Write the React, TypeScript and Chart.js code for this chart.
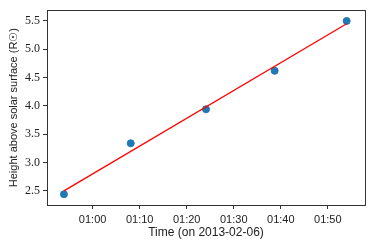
import React, { useEffect, useRef } from "react";
import { Chart, registerables } from "chart.js";

Chart.register(...registerables);

const pointTimes = ["00:53:54", "01:08:06", "01:24:06", "01:38:42", "01:54:00"];
const heights = [2.44, 3.34, 3.94, 4.62, 5.5];
const fitTimes = ["00:53:54", "01:54:00"];
const fitHeights = [2.5, 5.45];
const xTickTimes = ["01:00", "01:10", "01:20", "01:30", "01:40", "01:50"];
const yTicks = [2.5, 3.0, 3.5, 4.0, 4.5, 5.0, 5.5];

const toMin = (s: string) => {
  const p = s.split(":").map(Number);
  return p[0] * 60 + p[1] + (p[2] || 0) / 60;
};
const fmt = (m: number) => {
  const h = Math.floor(m / 60);
  const mm = Math.round(m - h * 60);
  return String(h).padStart(2, "0") + ":" + String(mm).padStart(2, "0");
};

const frame = {
  id: "frame",
  afterDraw(chart: any) {
    const { ctx, chartArea: a } = chart;
    ctx.save();
    ctx.strokeStyle = "#333";
    ctx.lineWidth = 1;
    ctx.strokeRect(Math.round(a.left) + 0.5, Math.round(a.top) + 0.5, Math.round(a.right - a.left), Math.round(a.bottom - a.top));
    ctx.restore();
  },
};

export default function App() {
  const ref = useRef<HTMLCanvasElement>(null);
  useEffect(() => {
    const chart = new Chart(ref.current!, {
      type: "scatter",
      data: {
        datasets: [
          {
            type: "line",
            data: fitTimes.map((t, i) => ({ x: toMin(t), y: fitHeights[i] })),
            borderColor: "#ff0000",
            borderWidth: 1.3,
            pointRadius: 0,
            fill: false,
          } as any,
          {
            data: pointTimes.map((t, i) => ({ x: toMin(t), y: heights[i] })),
            backgroundColor: "#1f77b4",
            borderColor: "#1f77b4",
            pointRadius: 3.5,
          },
        ],
      },
      options: {
        animation: false,
        responsive: false,
        layout: { padding: { top: 9, right: 9, left: 7, bottom: 9 } },
        plugins: { legend: { display: false }, tooltip: { enabled: false } },
        scales: {
          x: {
            type: "linear",
            min: 50.3,
            max: 117.9,
            afterBuildTicks: (s: any) => {
              s.ticks = xTickTimes.map((t) => ({ value: toMin(t) }));
            },
            afterFit: (s: any) => {
              s.height = 35;
            },
            grid: { display: true, drawOnChartArea: false, drawTicks: true, tickLength: 4, color: "#333" },
            border: { display: true, color: "#333" },
            ticks: {
              callback: (v: any) => fmt(Number(v)),
              color: "#222",
              font: { family: "Liberation Sans", size: 11 },
              padding: 4,
              maxRotation: 0,
            },
            title: {
              display: true,
              text: "Time (on 2013-02-06)",
              color: "#222",
              font: { family: "Liberation Sans", size: 12 },
              padding: { top: 0, bottom: 0 },
            },
          },
          y: {
            min: 2.25,
            max: 5.69,
            afterBuildTicks: (s: any) => {
              s.ticks = yTicks.map((v) => ({ value: v }));
            },
            afterFit: (s: any) => {
              s.width = 40;
            },
            grid: { display: true, drawOnChartArea: false, drawTicks: true, tickLength: 4, color: "#333" },
            border: { display: true, color: "#333" },
            ticks: {
              callback: (v: any) => Number(v).toFixed(1),
              color: "#222",
              font: { family: "Liberation Serif", size: 12 },
              padding: 3,
            },
            title: {
              display: true,
              text: "Height above solar surface (R☉)",
              color: "#222",
              font: { family: "Liberation Sans", size: 11 },
              padding: { top: 0, bottom: 2 },
            },
          },
        },
      },
      plugins: [frame],
    } as any);
    return () => chart.destroy();
  }, []);
  return (
    <div style={{ position: "fixed", left: 0, top: 0, width: 374, height: 249, background: "#fff" }}>
      <canvas ref={ref} width={374} height={249} />
    </div>
  );
}
